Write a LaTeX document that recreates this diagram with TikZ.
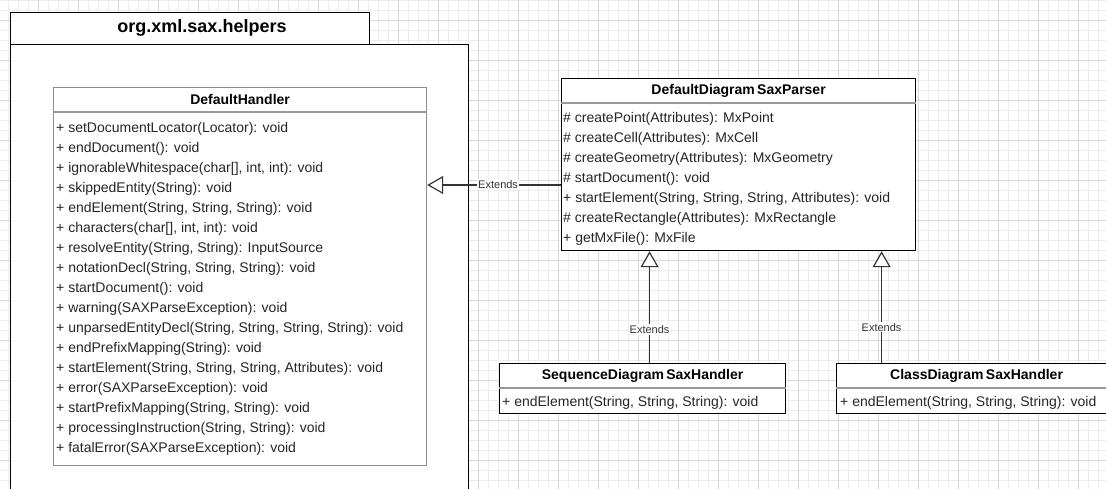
\documentclass[tikz,border=0pt]{standalone}
\usepackage{fontspec}
\setmainfont{Liberation Sans}
\usetikzlibrary{arrows.meta}

\begin{document}
\begin{tikzpicture}[x=1pt, y=1pt,
		box/.style={draw=black, fill=white, line width=1.2pt, inner sep=0pt, anchor=north west},
		greybox/.style={box, draw=black!45},
		sep/.style={draw=black!40, line width=1.1pt},
		head/.style={font=\fontsize{14}{16}\selectfont\bfseries, inner sep=0pt},
		member/.style={font=\fontsize{14}{16}\selectfont, text=black!85, inner sep=0pt, anchor=west},
		tag/.style={font=\fontsize{11}{12}\selectfont, text=black!80, fill=white, inner sep=1pt},
		extends/.style={-{Triangle[length=16pt, width=18pt, fill=white]}, line width=1.2pt, draw=black!80}]

		\useasboundingbox (0,0) rectangle (1106,-488);
		\clip (0,0) rectangle (1106,-488);
		\fill[white] (0,0) rectangle (1106,-488);
		\draw[black!7, line width=0.5pt, step=10pt, xshift=-2pt] (-10,-500) grid (1120,10);
		\draw[black!15, line width=0.6pt, step=40pt, xshift=-2pt, yshift=-20pt] (-40,-520) grid (1160,40);

		\node[box, minimum width=458pt, minimum height=480pt] (pkgBody) at (10,-44) {};
		\node[box, minimum width=359pt, minimum height=32pt] (pkgTab) at (10,-12) {};
		\node[font=\fontsize{18}{20}\selectfont\bfseries, inner sep=0pt] (pkgName) at (202,-28) {org.xml.sax.helpers};

		\node[greybox, minimum width=373pt, minimum height=378pt] (handler) at (53,-87) {};
		\node[head] (handlerName) at ([yshift=-12pt]handler.north) {DefaultHandler};
		\draw[sep] ([yshift=-25pt]handler.north west) -- ([yshift=-25pt]handler.north east);
		\foreach \m [count=\i] in {{+ setDocumentLocator(Locator): void}, {+ endDocument(): void},
			{+ ignorableWhitespace(char[], int, int): void}, {+ skippedEntity(String): void},
			{+ endElement(String, String, String): void}, {+ characters(char[], int, int): void},
			{+ resolveEntity(String, String): InputSource}, {+ notationDecl(String, String, String): void},
			{+ startDocument(): void}, {+ warning(SAXParseException): void},
			{+ unparsedEntityDecl(String, String, String, String): void}, {+ endPrefixMapping(String): void},
			{+ startElement(String, String, String, Attributes): void}, {+ error(SAXParseException): void},
			{+ startPrefixMapping(String, String): void}, {+ processingInstruction(String, String): void},
			{+ fatalError(SAXParseException): void}}
			\node[member] (handler\i) at (56,-109-20*\i) {\m};

		\node[box, minimum width=354pt, minimum height=172pt] (parser) at (561,-78) {};
		\node[head] (parserName) at ([yshift=-12.5pt]parser.north) {DefaultDiagram\,SaxParser};
		\draw[sep] ([yshift=-25pt]parser.north west) -- ([yshift=-25pt]parser.north east);
		\foreach \m [count=\i] in {{\# createPoint(Attributes): MxPoint}, {\# createCell(Attributes): MxCell},
			{\# createGeometry(Attributes): MxGeometry}, {\# startDocument(): void},
			{+ startElement(String, String, String, Attributes): void},
			{\# createRectangle(Attributes): MxRectangle}, {+ getMxFile(): MxFile}}
			\node[member] (parser\i) at (563,-99-20*\i) {\m};

		\node[box, minimum width=286pt, minimum height=50pt] (seq) at (499,-363) {};
		\node[head] (seqName) at ([yshift=-12.5pt]seq.north) {SequenceDiagram\,SaxHandler};
		\draw[sep] ([yshift=-25pt]seq.north west) -- ([yshift=-25pt]seq.north east);
		\node[member] (seq1) at (502,-403) {+ endElement(String, String, String): void};

		\node[box, minimum width=280pt, minimum height=50pt] (cls) at (836,-363) {};
		\node[head] (clsName) at ([yshift=-12.5pt]cls.north) {ClassDiagram\,SaxHandler};
		\draw[sep] ([yshift=-25pt]cls.north west) -- ([yshift=-25pt]cls.north east);
		\node[member] (cls1) at (840,-403) {+ endElement(String, String, String): void};

		\coordinate (parserHook) at (561,-185);
		\draw[extends] (parserHook) -- (parserHook -| handler.east) node[tag, pos=0.47] (tagHandler) {Extends};
		\draw[extends] ([xshift=7pt]seq.north) -- ([xshift=7pt]seq.north |- parser.south) node[tag, pos=0.3] (tagSeq) {Extends};
		\draw[extends] ([xshift=-95pt]cls.north) -- ([xshift=-95pt]cls.north |- parser.south) node[tag, pos=0.32] (tagCls) {Extends};

	\end{tikzpicture}
\end{document}
